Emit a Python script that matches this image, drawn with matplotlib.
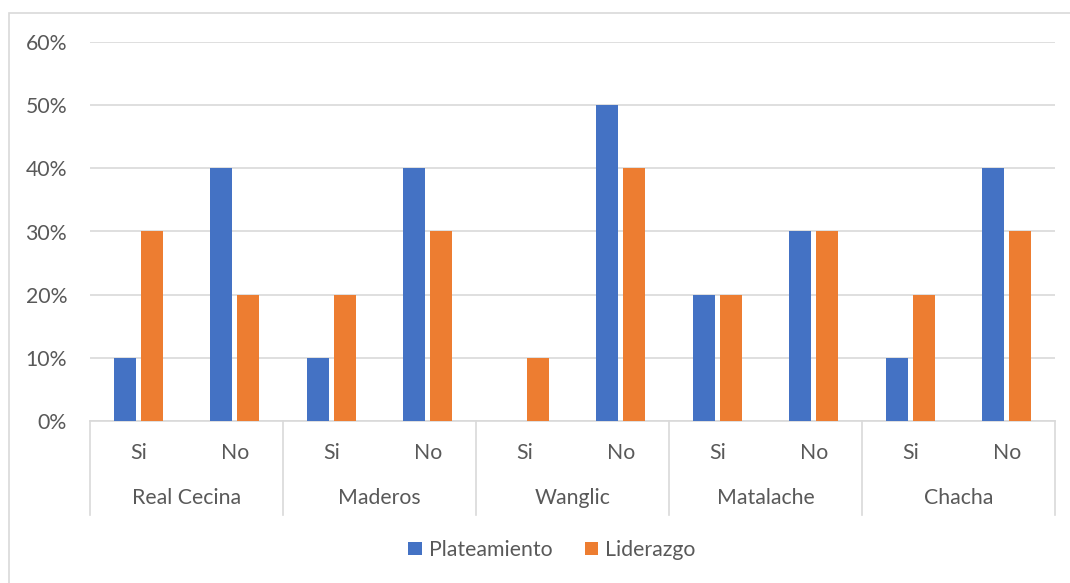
import matplotlib
matplotlib.use("Agg")
import matplotlib.pyplot as plt
from matplotlib.patches import Rectangle
from matplotlib.lines import Line2D
import numpy as np

groups = ["Real Cecina", "Maderos", "Wanglic", "Matalache", "Chacha"]
subcats = ["Si", "No"]
plateamiento = [0.10, 0.40, 0.10, 0.40, 0.00, 0.50, 0.20, 0.30, 0.10, 0.40]
liderazgo = [0.30, 0.20, 0.20, 0.30, 0.10, 0.40, 0.20, 0.30, 0.20, 0.30]
yticks = [0, 0.1, 0.2, 0.3, 0.4, 0.5, 0.6]

BLUE = "#4472C4"
ORANGE = "#ED7D31"
TXT = "#595959"
GRID = "#D9D9D9"
FS = 15.3

plt.rcParams['font.family'] = ['Lato', 'DejaVu Sans']

W, H = 1070, 583
fig = plt.figure(figsize=(W/100, H/100), dpi=100)
fig.patch.set_facecolor("white")
fig.patches.append(Rectangle((9/W, -0.01), 1.02, 1 - 13/H + 0.01, transform=fig.transFigure,
                             fill=False, edgecolor=GRID, linewidth=1.2))

left, right, top, bottom = 90, 1055, 42, 421
ax = fig.add_axes([left/W, 1 - bottom/H, (right-left)/W, (bottom-top)/H])

n = len(plateamiento)
x = np.arange(n)
w = 0.228
off = 0.14
ax.bar(x - off, plateamiento, w, color=BLUE, label="Plateamiento", zorder=3)
ax.bar(x + off, liderazgo, w, color=ORANGE, label="Liderazgo", zorder=3)

ax.set_xlim(-0.5, n - 0.5)
ax.set_ylim(0, 0.6)
ax.set_yticks(yticks)
ax.set_yticklabels([f"{int(round(t*100))}%" for t in yticks], color=TXT, fontsize=FS)
ax.tick_params(axis='y', length=0, pad=16.5)
ax.grid(axis='y', color=GRID, linewidth=1.2, zorder=0)
for s in ["top", "right", "left"]:
    ax.spines[s].set_visible(False)
ax.spines["bottom"].set_color(GRID)
ax.spines["bottom"].set_linewidth(1.2)
ax.set_xticks([])

# multi-level labels
ax_h = bottom - top
def ypix(py):
    return -(py - bottom) / ax_h
for i in range(n):
    ax.text(i, ypix(453), subcats[i % 2], transform=ax.get_xaxis_transform(),
            ha='center', va='center', color=TXT, fontsize=FS)
for g, name in enumerate(groups):
    ax.text(2*g + 0.5, ypix(498), name, transform=ax.get_xaxis_transform(),
            ha='center', va='center', color=TXT, fontsize=FS)
for g in range(len(groups) + 1):
    ax.add_line(Line2D([2*g - 0.5, 2*g - 0.5], [0, ypix(515)], transform=ax.get_xaxis_transform(),
                       color=GRID, linewidth=1.2, clip_on=False))

leg = fig.legend(loc='center', bbox_to_anchor=(552/W, 1 - 550/H), ncol=2, frameon=False,
                 fontsize=FS, handlelength=0.62, handleheight=0.62, handletextpad=0.35,
                 columnspacing=1.5, labelcolor=TXT)

fig.savefig("out.png", dpi=100)
